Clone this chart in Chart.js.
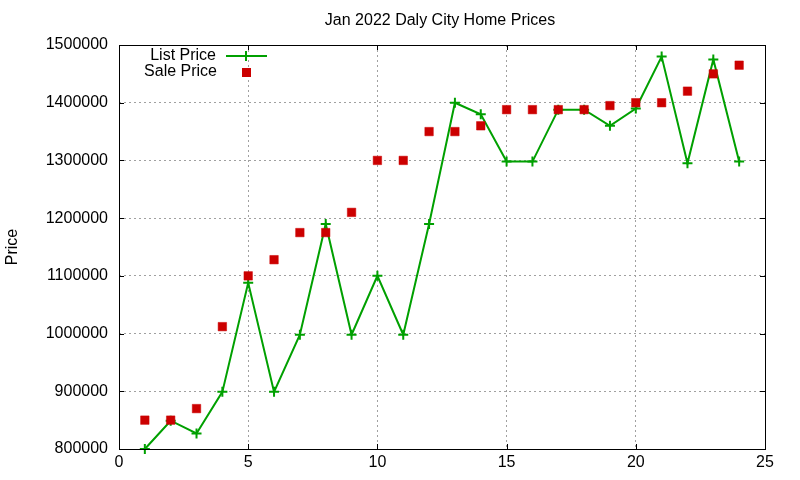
<!DOCTYPE html>
<html>
<head>
<meta charset="utf-8">
<script src="https://cdn.jsdelivr.net/npm/chart.js@4"></script>
<style>
    html, body { margin: 0; padding: 0; background: #ffffff; }
    #wrap { width: 800px; height: 480px; }
</style>
</head>
<body>
<div id="wrap"><canvas id="chart" width="800" height="480"></canvas></div>
<script>
const chartTitle = "Jan 2022 Daly City Home Prices";
const days = [1, 2, 3, 4, 5, 6, 7, 8, 9, 10, 11, 12, 13, 14, 15, 16, 17, 18, 19, 20, 21, 22, 23, 24];
const listPrice = [800000, 849000, 827000, 899000, 1088000, 899000, 998000, 1190000, 998000, 1100000, 998000, 1190000,
    1400000, 1380000, 1298000, 1298000, 1388000, 1388000, 1360000, 1390000, 1480000, 1295000, 1475000, 1298000];
const salePrice = [850000, 850000, 870000, 1012000, 1100000, 1128000, 1175000, 1175000, 1210000, 1300000, 1300000, 1350000,
    1350000, 1360000, 1388000, 1388000, 1388000, 1388000, 1395000, 1400000, 1400000, 1420000, 1450000, 1465000];
const xTicks = [0, 5, 10, 15, 20, 25];
const yTicks = [800000, 900000, 1000000, 1100000, 1200000, 1300000, 1400000, 1500000];

const GREEN = "#00a000";
const RED = "#cc0000";
const FONT = "'Liberation Sans', Arial, sans-serif";

// gnuplot-like frame, inward ticks, title and legend
const framePlugin = {
    id: "frame",
    afterDraw(chart) {
        const ctx = chart.ctx;
        const area = chart.chartArea;
        const xs = chart.scales.x;
        const ys = chart.scales.y;
        ctx.save();
        ctx.strokeStyle = "#000000";
        ctx.lineWidth = 1;
        ctx.beginPath();
        xTicks.forEach(v => {
            const px = Math.round(xs.getPixelForValue(v)) + 0.5;
            ctx.moveTo(px, area.bottom); ctx.lineTo(px, area.bottom - 5);
            ctx.moveTo(px, area.top); ctx.lineTo(px, area.top + 5);
        });
        yTicks.forEach(v => {
            const py = Math.round(ys.getPixelForValue(v)) + 0.5;
            ctx.moveTo(area.left, py); ctx.lineTo(area.left + 5, py);
            ctx.moveTo(area.right, py); ctx.lineTo(area.right - 5, py);
        });
        ctx.stroke();
        ctx.strokeRect(Math.round(area.left) + 0.5, Math.round(area.top) + 0.5,
            Math.round(area.right - area.left), Math.round(area.bottom - area.top));

        // title
        ctx.fillStyle = "#000000";
        ctx.font = "16px " + FONT;
        ctx.textAlign = "center";
        ctx.textBaseline = "middle";
        ctx.fillText(chartTitle, 440, 21);

        // legend
        ctx.font = "16px " + FONT;
        ctx.textAlign = "right";
        ctx.fillText("List Price", 216, 56);
        ctx.fillText("Sale Price", 217, 72);
        ctx.strokeStyle = GREEN;
        ctx.lineWidth = 2;
        ctx.beginPath();
        ctx.moveTo(226, 56); ctx.lineTo(267, 56);
        ctx.moveTo(246, 51); ctx.lineTo(246, 61);
        ctx.stroke();
        ctx.fillStyle = RED;
        ctx.fillRect(242, 68, 9, 9);
        ctx.restore();
    }
};

new Chart(document.getElementById("chart").getContext("2d"), {
    type: "scatter",
    data: {
        datasets: [{
            label: "List Price",
            data: days.map((d, i) => ({ x: d, y: listPrice[i] })),
            showLine: true,
            borderColor: GREEN,
            borderWidth: 2,
            pointStyle: "cross",
            pointRadius: 5,
            pointBorderWidth: 2,
            pointBorderColor: GREEN,
            pointBackgroundColor: GREEN,
            order: 1,
            clip: false
        }, {
            label: "Sale Price",
            data: days.map((d, i) => ({ x: d, y: salePrice[i] })),
            showLine: false,
            pointStyle: "rect",
            pointRadius: 6,
            pointBorderWidth: 0.5,
            pointBorderColor: RED,
            pointBackgroundColor: RED,
            order: 0,
            clip: false
        }]
    },
    options: {
        responsive: false,
        animation: false,
        devicePixelRatio: 1,
        layout: { padding: { top: 45, right: 35, left: 0, bottom: 0 } },
        plugins: {
            legend: { display: false },
            title: { display: false },
            tooltip: { enabled: false }
        },
        scales: {
            x: {
                type: "linear",
                min: 0,
                max: 25,
                afterFit(scale) { scale.height = 31; },
                afterBuildTicks(scale) { scale.ticks = xTicks.map(v => ({ value: v })); },
                ticks: {
                    color: "#000000",
                    font: { family: FONT, size: 16 },
                    padding: 4,
                    maxRotation: 0
                },
                grid: {
                    color: "#a0a0a0",
                    lineWidth: 1,
                    drawTicks: false
                },
                border: { display: false, dash: [2, 3] }
            },
            y: {
                type: "linear",
                min: 800000,
                max: 1500000,
                afterFit(scale) { scale.width = 119; },
                afterBuildTicks(scale) { scale.ticks = yTicks.map(v => ({ value: v })); },
                ticks: {
                    color: "#000000",
                    font: { family: FONT, size: 16 },
                    padding: 11,
                    callback: v => String(v)
                },
                grid: {
                    color: "#a0a0a0",
                    lineWidth: 1,
                    drawTicks: false
                },
                border: { display: false, dash: [2, 3] },
                title: {
                    display: true,
                    text: "Price",
                    color: "#000000",
                    font: { family: FONT, size: 16 },
                    padding: { top: 3, bottom: 0 }
                }
            }
        }
    },
    plugins: [framePlugin]
});
</script>
</body>
</html>
